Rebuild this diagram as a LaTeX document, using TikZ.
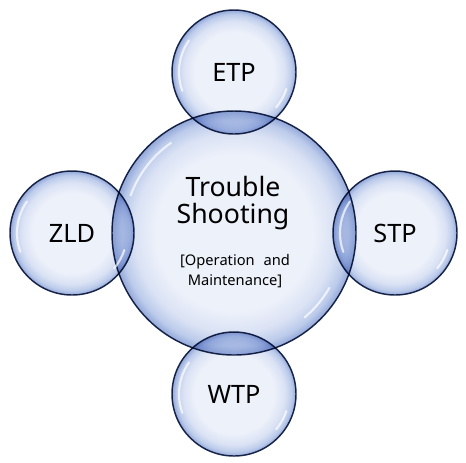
\documentclass[tikz,border=0pt]{standalone}
\usepackage{fontspec}
\setmainfont{Noto Sans}
\usetikzlibrary{calc}
\definecolor{bubin}{HTML}{EDF1FA}
\definecolor{bubmid}{HTML}{DAE2F4}
\definecolor{bubband}{HTML}{BCCBEB}
\definecolor{bubout}{HTML}{93A8D9}
\definecolor{bubline}{HTML}{1E2C4E}
\pgfdeclareradialshading{bubble}{\pgfpoint{0bp}{0bp}}{%
  color(0bp)=(bubin); color(16bp)=(bubin); color(20.5bp)=(bubmid);
  color(23.3bp)=(bubband); color(25bp)=(bubout); color(50bp)=(bubout)}
\begin{document}
\begin{tikzpicture}[x=0.75pt,y=-0.75pt,
  bubble/.style={circle, draw=bubline, line width=1.1pt, shade, shading=bubble,
    blend mode=multiply, inner sep=0pt, text=black},
  small/.style={bubble, minimum size=93pt, font=\fontsize{19}{22}\selectfont},
  big/.style={bubble, minimum size=183pt},
  shine/.style={white, line width=1.6pt, opacity=0.7, line cap=round},
  title/.style={align=center, inner sep=0pt, text=black, font=\fontsize{20}{20.25}\selectfont},
  subtitle/.style={align=center, inner sep=0pt, text=black, font=\fontsize{11}{15}\selectfont}]
\useasboundingbox (0,0) rectangle (466,462);
\node[big] (main) at (234,233) {};
\node[small] (etp) at (234,72) {ETP};
\node[small] (zld) at (72,233) {ZLD};
\node[small] (stp) at (395,233) {STP};
\node[small] (wtp) at (234,394) {WTP};
\node[title] (ttl) at (233,203) {Trouble\\Shooting};
\node[subtitle] (sub) at (235,271) {[Operation\hspace{0.6em}and\\Maintenance]};
% highlights
\foreach \n in {etp,zld,stp,wtp}{
  \draw[shine] ($(\n.center)+(-145:55)$) arc[start angle=-145, end angle=-200, radius=55];
  \draw[shine] ($(\n.center)+(40:55)$) arc[start angle=40, end angle=18, radius=55];
}
\draw[shine] ($(main.center)+(-125:110)$) arc[start angle=-125, end angle=-160, radius=110];
\draw[shine] ($(main.center)+(50:110)$) arc[start angle=50, end angle=30, radius=110];
\end{tikzpicture}
\end{document}
